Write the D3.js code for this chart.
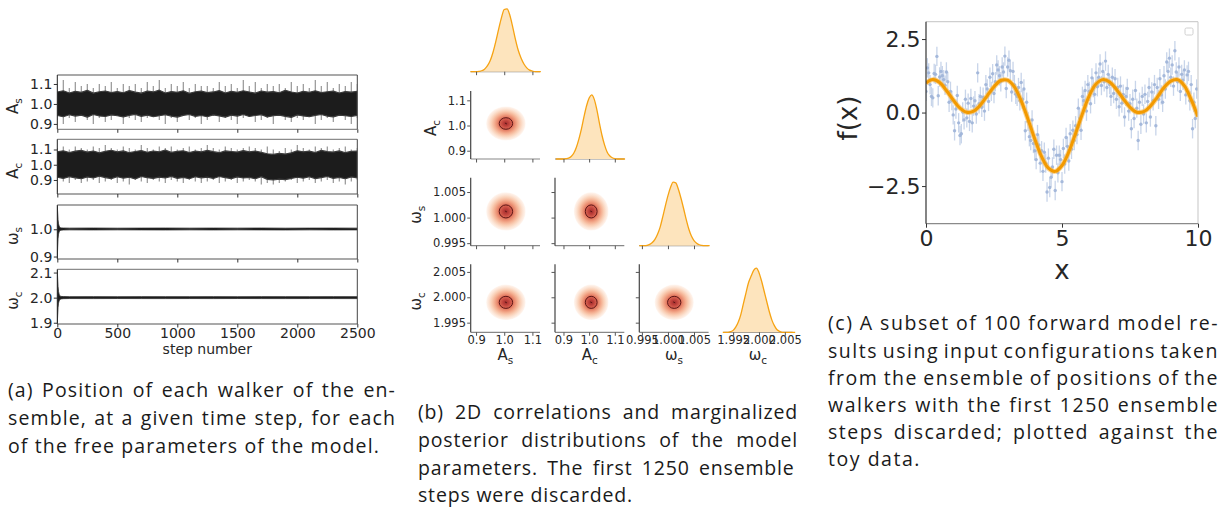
<!DOCTYPE html>
<html><head><meta charset="utf-8">
<script src="https://cdn.jsdelivr.net/npm/d3@7"></script>
<style>body{margin:0;background:#fff}svg{display:block}</style>
</head><body>
<svg id="fig" width="1223" height="509"></svg>
<script>
// ===================== DATA =====================
// (a) walker trace envelopes, every 50 steps: outer = extreme walkers, inner = bulk of walkers
const asOuterHi=[1.10,1.12,1.08,1.11,1.09,1.10,1.08,1.10,1.09,1.11,1.08,1.10,1.09,1.10,1.08,1.11,1.09,1.12,1.08,1.10,1.09,1.11,1.08,1.10,1.09,1.09,1.08,1.11,1.09,1.10,1.08,1.12,1.09,1.11,1.08,1.10,1.09,1.10,1.08,1.11,1.09,1.10,1.08,1.12,1.09,1.11,1.08,1.10,1.09,1.11,1.10];
const asOuterLo=[0.92,0.90,0.93,0.91,0.94,0.92,0.90,0.93,0.91,0.92,0.94,0.90,0.93,0.92,0.91,0.93,0.94,0.92,0.90,0.93,0.91,0.94,0.92,0.93,0.90,0.92,0.94,0.91,0.93,0.92,0.90,0.93,0.94,0.91,0.92,0.93,0.90,0.94,0.92,0.91,0.93,0.92,0.94,0.90,0.92,0.93,0.91,0.94,0.92,0.90,0.93];
const asInnerHi=[1.060,1.066,1.055,1.063,1.058,1.068,1.054,1.061,1.065,1.057,1.062,1.056,1.067,1.059,1.054,1.064,1.060,1.069,1.055,1.062,1.058,1.066,1.053,1.061,1.064,1.057,1.060,1.067,1.055,1.063,1.058,1.066,1.060,1.054,1.065,1.059,1.062,1.056,1.068,1.060,1.055,1.063,1.058,1.066,1.057,1.061,1.064,1.055,1.062,1.059,1.063];
const asInnerLo=[0.942,0.936,0.946,0.939,0.944,0.934,0.947,0.940,0.937,0.945,0.941,0.935,0.943,0.948,0.938,0.944,0.936,0.941,0.946,0.939,0.934,0.943,0.947,0.938,0.942,0.936,0.945,0.940,0.934,0.944,0.939,0.947,0.937,0.942,0.946,0.935,0.941,0.944,0.938,0.933,0.945,0.940,0.936,0.943,0.947,0.939,0.935,0.944,0.941,0.937,0.943];
const acOuterHi=[1.11,1.12,1.10,1.12,1.11,1.10,1.12,1.11,1.13,1.11,1.10,1.12,1.11,1.10,1.13,1.11,1.10,1.12,1.11,1.12,1.10,1.11,1.12,1.10,1.11,1.13,1.11,1.10,1.12,1.11,1.10,1.11,1.12,1.11,1.10,1.12,1.10,1.09,1.11,1.10,1.13,1.11,1.10,1.12,1.11,1.12,1.10,1.11,1.12,1.10,1.11];
const acOuterLo=[0.82,0.89,0.88,0.90,0.88,0.89,0.90,0.88,0.89,0.90,0.88,0.89,0.87,0.90,0.89,0.88,0.90,0.89,0.88,0.90,0.89,0.88,0.90,0.89,0.88,0.89,0.90,0.88,0.89,0.90,0.88,0.89,0.90,0.89,0.87,0.88,0.87,0.88,0.89,0.90,0.88,0.89,0.90,0.88,0.89,0.90,0.88,0.89,0.87,0.89,0.90];
const acInnerHi=[1.085,1.092,1.080,1.089,1.094,1.083,1.090,1.078,1.088,1.095,1.084,1.091,1.079,1.087,1.093,1.082,1.090,1.085,1.096,1.081,1.088,1.092,1.080,1.089,1.084,1.094,1.086,1.079,1.091,1.087,1.083,1.093,1.085,1.090,1.081,1.072,1.068,1.075,1.070,1.078,1.092,1.085,1.089,1.080,1.094,1.086,1.083,1.091,1.079,1.088,1.090];
const acInnerLo=[0.918,0.910,0.922,0.914,0.908,0.920,0.913,0.925,0.916,0.909,0.921,0.912,0.918,0.907,0.923,0.915,0.910,0.919,0.913,0.924,0.911,0.917,0.908,0.921,0.914,0.919,0.910,0.923,0.915,0.909,0.920,0.913,0.917,0.908,0.922,0.904,0.900,0.906,0.902,0.910,0.918,0.912,0.921,0.909,0.916,0.923,0.911,0.917,0.908,0.920,0.914];
const wSteps=[0,3,6,10,15,20,30,50,100,300,500,700,900,1100,1300,1500,1700,1900,2100,2300,2500];
const wsHi=[1.085,1.06,1.035,1.02,1.012,1.007,1.005,1.0045,1.0042,1.0045,1.0040,1.0043,1.0045,1.0041,1.0044,1.0042,1.0045,1.0040,1.0043,1.0044,1.0042];
const wsLo=[0.895,0.935,0.965,0.982,0.990,0.995,0.9968,0.9975,0.9978,0.9976,0.9979,0.9977,0.9975,0.9978,0.9976,0.9979,0.9977,0.9975,0.9978,0.9976,0.9977];
const wcHi=[2.11,2.075,2.045,2.025,2.014,2.008,2.005,2.0042,2.0038,2.0040,2.0037,2.0041,2.0039,2.0038,2.0040,2.0037,2.0041,2.0039,2.0038,2.0040,2.0039];
const wcLo=[1.898,1.93,1.96,1.978,1.987,1.992,1.995,1.996,1.9964,1.9962,1.9965,1.9963,1.9962,1.9964,1.9962,1.9965,1.9963,1.9962,1.9964,1.9963,1.9962];
const stepTicks=[0,500,1000,1500,2000,2500];

// (b) posterior summaries
const paramNames=[['A','s'],['A','c'],['ω','s'],['ω','c']];
const postMean=[1.006,1.008,1.0012,1.9990];
const postSigma=[0.028,0.027,0.0015,0.0014];
const paramTicks=[[0.9,1.0,1.1],[0.9,1.0,1.1],[0.995,1.000,1.005],[1.995,2.000,2.005]];
const kdeStart=[0.88,0.87,0.9945,1.9930];
const kdeStep=[0.01,0.01,0.0005,0.0005];
const kdeAs=[0,0,0,0.005,0.015,0.04,0.09,0.17,0.30,0.47,0.66,0.84,0.97,0.98,0.88,0.70,0.50,0.33,0.21,0.12,0.06,0.025,0.01,0,0,0];
const kdeAc=[0,0,0,0,0.005,0.015,0.04,0.09,0.18,0.31,0.47,0.66,0.83,0.95,1.0,0.93,0.77,0.56,0.37,0.22,0.11,0.05,0.02,0.005,0,0,0,0];
const kdeWs=[0,0,0,0.005,0.02,0.05,0.10,0.18,0.29,0.45,0.62,0.78,0.91,0.99,0.98,0.88,0.74,0.58,0.41,0.26,0.15,0.08,0.04,0.015,0.005,0,0,0];
const kdeWc=[0,0,0,0.01,0.03,0.08,0.16,0.28,0.45,0.62,0.78,0.88,0.97,1.00,0.93,0.80,0.64,0.48,0.32,0.19,0.10,0.04,0.015,0,0,0,0,0,0];

// (c) toy data (x = 0 ... 9.95, every 0.05) and forward model curve (every 0.25)
const toyY=[0.72,1.52,1.35,0.95,0.55,0.50,1.33,1.30,1.91,0.57,
1.21,1.40,1.25,1.12,0.93,1.38,1.05,0.35,0.72,0.41,
-0.08,-0.62,0.12,0.58,-0.35,-0.78,-0.72,0.02,-0.25,0.45,
-0.18,0.32,-0.30,0.48,-0.35,0.22,0.40,-0.05,1.35,0.30,
0.55,0.18,0.52,0.05,0.95,0.80,0.38,1.20,0.72,1.32,
0.65,1.05,1.62,1.45,1.25,1.05,1.55,1.38,1.92,0.82,
1.55,1.78,1.42,0.70,1.40,0.95,0.62,0.55,0.85,0.40,
1.02,0.45,0.80,-0.62,0.35,-0.30,-0.82,-0.95,-0.25,-1.05,
-1.30,-1.60,-0.75,-1.10,-1.72,-1.30,-2.00,-1.35,-1.72,-2.70,
-1.55,-2.55,-2.20,-1.85,-1.25,-2.65,-1.45,-2.05,-1.45,-1.60,
-2.35,-1.22,-1.75,-0.85,-1.15,-1.65,-0.72,-1.25,-0.60,-0.95,
-0.45,-0.75,0.15,-0.20,-0.60,0.55,0.40,0.75,0.05,0.95,
0.72,0.30,1.18,0.85,0.62,1.35,0.88,1.20,1.65,0.92,
1.40,1.05,1.75,0.85,1.30,0.95,0.55,1.20,0.65,1.15,
0.45,0.85,0.20,0.90,0.32,0.62,-0.15,0.55,0.82,0.05,
0.30,-0.55,0.45,-0.20,0.75,0.15,-0.95,0.35,-0.40,0.55,
-0.05,0.62,-0.35,0.38,0.85,-0.15,0.70,0.40,0.95,-0.45,
0.85,0.45,1.15,0.60,0.35,1.25,0.80,1.72,1.40,1.85,
1.20,1.62,0.90,2.10,1.38,1.05,1.55,0.72,1.30,1.10,
1.45,0.60,1.28,1.40,0.40,0.95,-0.55,0.35,-0.20,0.80];
const toyErr=0.33;
const modelY=[1.00,1.12,1.02,0.75,0.43,0.15,0.01,0.05,0.26,0.57,0.88,1.09,1.10,0.87,0.40,-0.23,-0.90,-1.50,-1.89,-2.00,-1.80,-1.34,-0.71,-0.04,0.57,0.97,1.12,1.04,0.79,0.47,0.18,0.01,0.03,0.22,0.52,0.85,1.07,1.12,0.91,0.44,-0.14];
const fTicksY=[-2.5,0,2.5];
const fTicksX=[0,5,10];

// captions
const capA=["(a) Position of each walker of the en-","semble, at a given time step, for each","of the free parameters of the model."];
const capB=["(b) 2D correlations and marginalized","posterior distributions of the model","parameters.  The first 1250 ensemble","steps were discarded."];
const capC=["(c) A subset of 100 forward model re-","sults using input configurations taken","from the ensemble of positions of the","walkers with the first 1250 ensemble","steps discarded; plotted against the","toy data."];

// ===================== DRAWING =====================
const svg=d3.select('#fig');
const FONT='"DejaVu Sans", sans-serif';
const defs=svg.append('defs');
function line(g,x1,y1,x2,y2,c,w){return g.append('line').attr('x1',x1).attr('y1',y1).attr('x2',x2).attr('y2',y2).attr('stroke',c).attr('stroke-width',w);}
function subLabel(g,x,y,name,size,rot){
  const t=g.append('text').attr('transform',`translate(${x},${y})`+(rot?' rotate(-90)':''))
    .attr('text-anchor','middle').attr('font-family',FONT).attr('font-size',size).attr('fill','#262626');
  t.append('tspan').text(name[0]);
  t.append('tspan').attr('font-size',size*0.7).attr('dy',size*0.25).text(name[1]);
  return t;
}
function styleAxis(ax,fs){
  ax.select('.domain').remove();
  ax.selectAll('.tick line').attr('stroke','#333');
  ax.selectAll('.tick text').attr('font-family',FONT).attr('font-size',fs).attr('fill','#262626');
}

// ---------- Panel (a) ----------
const gA=svg.append('g');
const aX=d3.scaleLinear().domain([0,2500]).range([57.3,357.3]);
const aRows=[
 {top:75,bot:129.3,dom:[0.873,1.145],ticks:[0.9,1.0,1.1],name:paramNames[0]},
 {top:139.3,bot:194,dom:[0.808,1.167],ticks:[0.9,1.0,1.1],name:paramNames[1]},
 {top:205,bot:259,dom:[0.891,1.089],ticks:[0.9,1.0],name:paramNames[2]},
 {top:269.3,bot:324,dom:[1.895,2.113],ticks:[1.9,2.0,2.1],name:paramNames[3]}
];
const envSteps=d3.range(0,2501,50);
const traces=[
 {oh:asOuterHi,ol:asOuterLo,ih:asInnerHi,il:asInnerLo},
 {oh:acOuterHi,ol:acOuterLo,ih:acInnerHi,il:acInnerLo},
 {s:wSteps,hi:wsHi,lo:wsLo},
 {s:wSteps,hi:wcHi,lo:wcLo}
];
aRows.forEach((r,k)=>{
  const y=d3.scaleLinear().domain(r.dom).range([r.bot,r.top]);
  const cid='clipA'+k;
  defs.append('clipPath').attr('id',cid).append('rect').attr('x',aX(0)).attr('y',r.top).attr('width',aX(2500)-aX(0)).attr('height',r.bot-r.top);
  const gc=gA.append('g').attr('clip-path',`url(#${cid})`);
  const t=traces[k];
  if(t.oh){
    t.oh.forEach((v,i)=>{
      const s=envSteps[i];
      line(gc,aX(s),y(t.ih[i]),aX(s),y(v),'#959595',1.2);
      line(gc,aX(s),y(t.il[i]),aX(s),y(t.ol[i]),'#959595',1.2);
    });
    const area=d3.area().x((d,i)=>aX(envSteps[i])).y0((d,i)=>y(t.il[i])).y1((d,i)=>y(t.ih[i]));
    gc.append('path').attr('d',area(t.ih)).attr('fill','#1c1c1c').attr('stroke','#3c3c3c').attr('stroke-width',1.2).attr('stroke-linejoin','round');
  } else {
    const area=d3.area().x((d,i)=>aX(t.s[i])).y0((d,i)=>y(t.lo[i])).y1((d,i)=>y(t.hi[i]));
    gc.append('path').attr('d',area(t.hi)).attr('fill','#1c1c1c').attr('stroke','#2a2a2a').attr('stroke-width',0.8).attr('stroke-linejoin','round');
  }
  // spines
  line(gA,aX(0),r.top,aX(2500),r.top,'#8c8c8c',1.3);
  line(gA,aX(0),r.bot,aX(2500),r.bot,'#8c8c8c',1.3);
  line(gA,aX(0),r.top,aX(0),r.bot,'#222',1);
  line(gA,aX(2500),r.top,aX(2500),r.bot,'#444',1);
  const ay=gA.append('g').attr('transform',`translate(${aX(0)},0)`)
    .call(d3.axisLeft(y).tickValues(r.ticks).tickSize(3.5).tickPadding(1.5).tickFormat(d3.format('.1f')));
  styleAxis(ay,14);
  const ax=gA.append('g').attr('transform',`translate(0,${r.bot})`)
    .call(d3.axisBottom(aX).tickValues(stepTicks).tickSize(3.5).tickPadding(1).tickFormat(k===3?d3.format('d'):''));
  styleAxis(ax,14);
  subLabel(gA,18,(r.top+r.bot)/2+4,r.name,15,true);
});
gA.append('text').attr('x',(aX(0)+aX(2500))/2).attr('y',354).attr('text-anchor','middle')
  .attr('font-family',FONT).attr('font-size',14).attr('fill','#262626').text('step number');

// ---------- Panel (b) ----------
const gB=svg.append('g');
const bCols=[470.7,555,639.3,723.3], bRows=[3.7,91,177.7,264.3], bW=69.3, bH=68;
const pDom=[[0.881,1.127],[0.867,1.137],[0.9945,1.0078],[1.9931,2.0065]];
const pFmt=['.1f','.1f','.3f','.3f'];
const kdes=[kdeAs,kdeAc,kdeWs,kdeWc];
const grad=defs.append('radialGradient').attr('id','blob');
[[0,'#a42f2e'],[0.14,'#bd3f3a'],[0.3,'#d6604f'],[0.44,'#e98a6e'],[0.58,'#f4ae90'],[0.72,'#f9cdb3'],[0.85,'#fce3d3'],[0.95,'#fef0e7'],[1,'#fff8f3']]
  .forEach(s=>grad.append('stop').attr('offset',s[0]).attr('stop-color',s[1]));
for(let i=0;i<4;i++){
  for(let j=0;j<=i;j++){
    const x=d3.scaleLinear().domain(pDom[j]).range([bCols[j],bCols[j]+bW]);
    const top=bRows[i], bot=bRows[i]+bH;
    if(i===j){
      const y=d3.scaleLinear().domain([0,1.06]).range([bot,top]);
      const vals=kdes[i];
      const xs=vals.map((v,k)=>kdeStart[i]+k*kdeStep[i]);
      const ar=d3.area().curve(d3.curveMonotoneX).x((d,k)=>x(xs[k])).y0(bot).y1(d=>y(d));
      const ln=d3.line().curve(d3.curveMonotoneX).x((d,k)=>x(xs[k])).y(d=>y(d));
      line(gB,bCols[j],bot,bCols[j]+bW,bot,'#888',1.2);
      gB.append('path').attr('d',ar(vals)).attr('fill','#fde4bd');
      gB.append('path').attr('d',ln(vals)).attr('fill','none').attr('stroke','#f6a313').attr('stroke-width',1.3);
    } else {
      const y=d3.scaleLinear().domain(pDom[i]).range([bot,top]);
      const cx=x(postMean[j]), cy=y(postMean[i]);
      const rx=Math.abs(x(postMean[j]+postSigma[j])-cx), ry=Math.abs(y(postMean[i]+postSigma[i])-cy);
      gB.append('ellipse').attr('cx',cx).attr('cy',cy).attr('rx',rx*2.5).attr('ry',ry*2.5).attr('fill','url(#blob)');
      gB.append('ellipse').attr('cx',cx).attr('cy',cy).attr('rx',rx*0.85).attr('ry',ry*0.85)
        .attr('fill','none').attr('stroke','#5b1515').attr('stroke-width',1);
      line(gB,cx-1,cy-0.5,cx+1,cy+0.5,'#5b1515',1);
      line(gB,bCols[j],bot,bCols[j]+bW,bot,'#888',1.2);
      line(gB,bCols[j],top,bCols[j],bot,'#444',1.2);
      const ay=gB.append('g').attr('transform',`translate(${bCols[j]},0)`)
        .call(d3.axisLeft(y).tickValues(paramTicks[i]).tickSize(3.5).tickPadding(1.2).tickFormat(j===0?d3.format(pFmt[i]):''));
      styleAxis(ay,11.5); ay.selectAll('.tick line').attr('stroke','#555');
    }
    const ax=gB.append('g').attr('transform',`translate(0,${bot})`)
      .call(d3.axisBottom(x).tickValues(paramTicks[j]).tickSize(3.5).tickPadding(0.5).tickFormat(i===3?d3.format(pFmt[j]):''));
    styleAxis(ax,11.5); ax.selectAll('.tick line').attr('stroke','#555');
  }
  subLabel(gB,bCols[i]+bW/2,360,paramNames[i],15,false);
}
subLabel(gB,436,bRows[1]+bH/2+3,paramNames[1],15,true);
subLabel(gB,421,bRows[2]+bH/2+3,paramNames[2],15,true);
subLabel(gB,421,bRows[3]+bH/2+3,paramNames[3],15,true);

// ---------- Panel (c) ----------
const gC=svg.append('g');
const cX=d3.scaleLinear().domain([0,10]).range([926,1198]);
const cY=d3.scaleLinear().domain([-3.78,3.09]).range([223.7,21.7]);
const toyX=toyY.map((v,i)=>i*0.05);
const modelX=modelY.map((v,i)=>i*0.25);
defs.append('clipPath').attr('id','clipC').append('rect').attr('x',926).attr('y',21.7).attr('width',272).attr('height',202);
const gcc=gC.append('g').attr('clip-path','url(#clipC)');
toyY.forEach((v,i)=>{
  gcc.append('line').attr('x1',cX(toyX[i])).attr('x2',cX(toyX[i])).attr('y1',cY(v-toyErr)).attr('y2',cY(v+toyErr))
    .attr('stroke','#b6c7e3').attr('stroke-width',1.3).attr('opacity',0.75);
});
toyY.forEach((v,i)=>{
  gcc.append('circle').attr('cx',cX(toyX[i])).attr('cy',cY(v)).attr('r',1.7).attr('fill','#9fb4d8').attr('opacity',0.9);
});
const mline=d3.line().curve(d3.curveCatmullRom).x((d,i)=>cX(modelX[i])).y(d=>cY(d));
gcc.append('path').attr('d',mline(modelY)).attr('fill','none').attr('stroke','#f7b548').attr('stroke-width',5).attr('opacity',0.6);
gcc.append('path').attr('d',mline(modelY)).attr('fill','none').attr('stroke','#f39a00').attr('stroke-width',3);
line(gC,926,21.7,1198,21.7,'#cfcfcf',1.2);
line(gC,1198,21.7,1198,223.7,'#cfcfcf',1.2);
line(gC,926,223.7,1198,223.7,'#8a8a8a',1.3);
line(gC,926,21.7,926,223.7,'#333',1.2);
const cyAx=gC.append('g').attr('transform','translate(926,0)')
  .call(d3.axisLeft(cY).tickValues(fTicksY).tickSize(4).tickPadding(1.5).tickFormat(d=>d3.format('.1f')(d).replace('-','−')));
styleAxis(cyAx,22);
const cxAx=gC.append('g').attr('transform','translate(0,223.7)')
  .call(d3.axisBottom(cX).tickValues(fTicksX).tickSize(4).tickPadding(3).tickFormat(d3.format('d')));
styleAxis(cxAx,22);
gC.append('text').attr('transform','translate(857,118) rotate(-90)').attr('text-anchor','middle')
  .attr('font-family',FONT).attr('font-size',26).attr('fill','#262626').text('f(x)');
gC.append('text').attr('x',1062).attr('y',279).attr('text-anchor','middle')
  .attr('font-family',FONT).attr('font-size',26).attr('fill','#262626').text('x');
gC.append('rect').attr('x',1185).attr('y',28).attr('width',8).attr('height',7).attr('rx',1.5)
  .attr('fill','#fff').attr('stroke','#d0d0d0').attr('stroke-width',1);

// ---------- Captions ----------
// lastEnd: where the (unjustified) last line ends in the reference; sets letter spacing
function caption(lines,x,right,lastEnd,baselines){
  const CF='"Open Sans", "Noto Sans", sans-serif';
  const probe=svg.append('text').attr('font-family',CF).attr('font-size',19.5).text(lines[lines.length-1]);
  const nat=probe.node().getComputedTextLength(); probe.remove();
  const ls=(lastEnd-x-nat)/lines[lines.length-1].length;
  lines.forEach((ln,i)=>{
    const t=svg.append('text').attr('x',x).attr('y',baselines[i]).attr('font-family',CF)
      .attr('font-size',19.5).attr('letter-spacing',ls).attr('fill','#1a1a1a').text(ln);
    if(i<lines.length-1){
      const w=t.node().getComputedTextLength();
      const sp=(ln.match(/ /g)||[]).length;
      if(sp>0) t.attr('word-spacing',(right-x-w)/sp);
    }
  });
}
caption(capA,8,396,380,[397,425,453]);
caption(capB,418,798,633,[419,447,474.5,502]);
caption(capC,828,1219,921,[330,357.5,385,412,439,466]);
</script>
</body></html>
